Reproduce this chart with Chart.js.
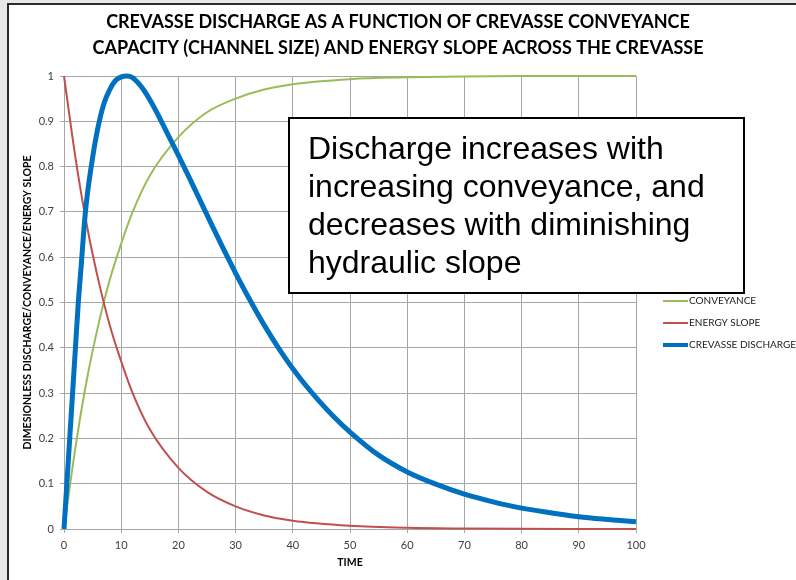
<!DOCTYPE html>
<html>
<head>
<meta charset="utf-8">
<script src="https://cdn.jsdelivr.net/npm/chart.js@4/dist/chart.umd.min.js"></script>
<style>
  html, body { margin:0; padding:0; background:#e8e8e8; }
  #wrap { position:absolute; left:0; top:0; width:796px; height:580px; }
</style>
</head>
<body>
<div id="wrap"><canvas id="chart" width="796" height="580"></canvas></div>
<script>
// values
const TITLE = ['CREVASSE DISCHARGE AS A FUNCTION OF CREVASSE CONVEYANCE',
               'CAPACITY (CHANNEL SIZE) AND ENERGY SLOPE ACROSS THE CREVASSE'];
const X_TITLE = 'TIME';
const Y_TITLE = 'DIMESIONLESS DISCHARGE/CONVEYANCE/ENERGY SLOPE';
const SERIES = ['CONVEYANCE', 'ENERGY SLOPE', 'CREVASSE DISCHARGE'];
const NOTE = ['Discharge increases with', 'increasing conveyance, and',
              'decreases with diminishing', 'hydraulic slope'];

const CONV_X = [0, 2, 4, 6, 8, 10, 12, 15, 20, 25, 30, 35, 40, 50, 60, 70, 80, 90, 100];
const CONV_Y = [0, 0.18, 0.33, 0.45, 0.55, 0.63, 0.70, 0.78, 0.865, 0.92, 0.95, 0.97, 0.982, 0.993, 0.997, 0.999, 1, 1, 1];

const SLOPE_X = [0, 2, 4, 6, 8, 10, 12, 15, 20, 25, 30, 35, 40, 50, 60, 70, 80, 90, 100];
const SLOPE_Y = [1, 0.82, 0.67, 0.55, 0.45, 0.37, 0.30, 0.22, 0.135, 0.082, 0.05, 0.03, 0.018, 0.007, 0.0025, 0.001, 0.0003, 0.0001, 0];

const DISCH_X = [0, 0.5, 1, 1.5, 2, 2.5, 3, 3.5, 4, 5, 6, 7, 8, 9, 10, 11, 12, 14, 16, 18, 20, 22, 24, 26, 28, 30, 32, 35, 38, 41, 44, 47, 50, 55, 60, 65, 70, 75, 80, 85, 90, 95, 100];
const DISCH_Y = [0, 0.1, 0.2, 0.3, 0.4, 0.5, 0.58, 0.665, 0.73, 0.82, 0.89, 0.94, 0.97, 0.99, 0.998, 1.0, 0.996, 0.968, 0.925, 0.875, 0.825, 0.773, 0.72, 0.667, 0.615, 0.565, 0.517, 0.45, 0.39, 0.337, 0.291, 0.25, 0.214, 0.163, 0.126, 0.099, 0.077, 0.06, 0.046, 0.036, 0.027, 0.021, 0.016];

const COLORS = ['#9bbb59', '#c0504d', '#0070c0'];
const WIDTHS = [2, 2, 5];

function pts(xs, ys){ return xs.map((x, i) => ({ x, y: ys[i] })); }

// page frame + white sheet behind the chart
const framePlugin = {
  id: 'frame',
  beforeDraw(chart){
    const c = chart.ctx;
    c.save();
    c.fillStyle = '#e8e8e8';
    c.fillRect(0, 0, chart.width, chart.height);
    c.fillStyle = '#ffffff';
    c.fillRect(8, 5, chart.width - 8, chart.height - 5);
    c.fillStyle = '#2b2b2b';
    c.fillRect(7, 3, 2, chart.height - 3);
    c.fillRect(7, 3, chart.width - 7, 2);
    c.restore();
  }
};

// legend on the right, drawn by hand so the plot area keeps its size
const legendPlugin = {
  id: 'sideLegend',
  afterDraw(chart){
    const c = chart.ctx;
    c.save();
    c.font = '10px Lato';
    c.textBaseline = 'middle';
    SERIES.forEach((name, i) => {
      const y = 301 + i * 22;
      c.strokeStyle = COLORS[i];
      c.lineWidth = WIDTHS[i] === 5 ? 4 : 2;
      c.beginPath(); c.moveTo(663, y); c.lineTo(688, y); c.stroke();
      c.fillStyle = '#1a1a1a';
      c.fillText(name, 689, y);
    });
    c.restore();
  }
};

// text box over the plot
const notePlugin = {
  id: 'note',
  afterDraw(chart){
    const c = chart.ctx;
    c.save();
    c.fillStyle = '#ffffff';
    c.fillRect(289, 118, 455, 175);
    c.strokeStyle = '#000000';
    c.lineWidth = 2;
    c.strokeRect(289, 118, 455, 175);
    c.fillStyle = '#000000';
    c.font = '32px "Liberation Sans"';
    c.textBaseline = 'alphabetic';
    NOTE.forEach((line, i) => c.fillText(line, 308, 159 + i * 38));
    c.restore();
  }
};

const gridColor = '#a6a6a6';
const tickFont = { family: 'Lato', size: 11 };
const fmtTick = v => String(Math.round(v * 10) / 10);

new Chart(document.getElementById('chart'), {
  type: 'line',
  data: {
    datasets: [
      { label: SERIES[0], data: pts(CONV_X, CONV_Y), borderColor: COLORS[0], borderWidth: WIDTHS[0], order: 2 },
      { label: SERIES[1], data: pts(SLOPE_X, SLOPE_Y), borderColor: COLORS[1], borderWidth: WIDTHS[1], order: 1 },
      { label: SERIES[2], data: pts(DISCH_X, DISCH_Y), borderColor: COLORS[2], borderWidth: WIDTHS[2], order: 0 }
    ].map(d => Object.assign(d, { pointRadius: 0, fill: false, cubicInterpolationMode: 'monotone', clip: 8 }))
  },
  options: {
    responsive: false,
    animation: false,
    layout: { padding: 0 },
    plugins: {
      legend: { display: false },
      tooltip: { enabled: false },
      title: {
        display: true,
        text: TITLE,
        color: '#000000',
        font: { family: 'Lato', size: 18, weight: 'bold', lineHeight: 26 / 18 },
        padding: { top: 9, bottom: 15 }
      }
    },
    scales: {
      x: {
        type: 'linear', min: 0, max: 100,
        ticks: { stepSize: 10, color: '#404040', font: tickFont, padding: 6, maxRotation: 0, callback: fmtTick },
        grid: { color: gridColor, tickLength: 4 },
        border: { color: gridColor },
        title: { display: true, text: X_TITLE, color: '#000000', font: { family: 'Lato', size: 10.5, weight: 'bold' }, padding: { bottom: 11 } },
        afterFit(s){ s.height = 51; }
      },
      y: {
        min: 0, max: 1,
        ticks: { stepSize: 0.1, color: '#404040', font: tickFont, padding: 6, callback: fmtTick },
        grid: { color: gridColor, tickLength: 4 },
        border: { color: gridColor },
        title: { display: true, text: Y_TITLE, color: '#000000', font: { family: 'Lato', size: 10.5, weight: 'bold' }, padding: { top: 21 } },
        afterFit(s){ s.width = 64; }
      },
      // empty box that reserves room on the right for the legend
      side: {
        type: 'linear', position: 'right', display: true,
        ticks: { display: false }, grid: { display: false }, border: { display: false },
        afterFit(s){ s.width = 160; }
      }
    }
  },
  plugins: [framePlugin, legendPlugin, notePlugin]
});
</script>
</body>
</html>
